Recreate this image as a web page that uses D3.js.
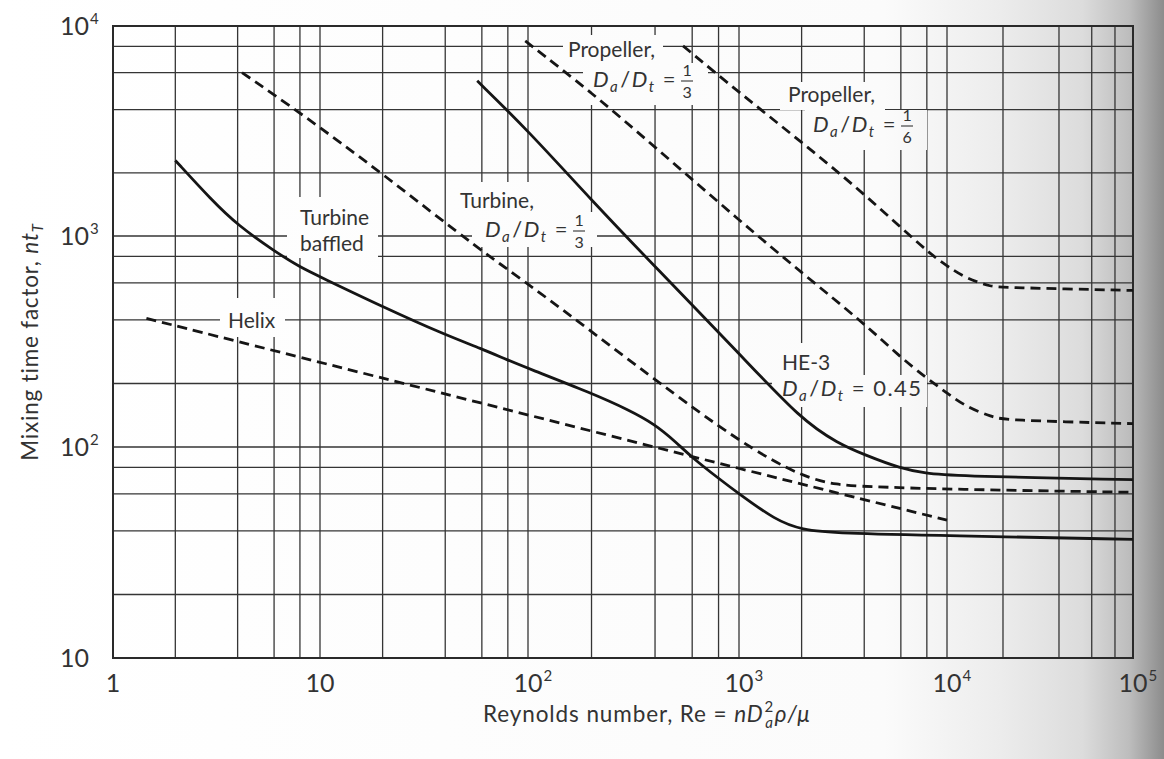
<!DOCTYPE html>
<html>
<head>
<meta charset="utf-8">
<script src="https://cdn.jsdelivr.net/npm/d3@7"></script>
<style>
  body { margin: 0; background: #fff; }
  svg { display: block; }
  text { font-family: Lato, "Open Sans", sans-serif; fill: #333; }
</style>
</head>
<body>
<svg id="chart" width="1164" height="759"></svg>
<script>
// ---------------- data ----------------
const xGridValues = [1,2,4,6,8,10,20,40,60,80,100,200,400,600,800,1000,2000,4000,6000,8000,10000,20000,40000,60000,80000,100000];
const yGridValues = [10,20,40,60,80,100,200,400,600,800,1000,2000,4000,6000,8000,10000];
const xTickValues = [1,10,100,1000,10000,100000];
const xTickBase = ["1","10","10","10","10","10"];
const xTickExp  = ["","","2","3","4","5"];
const yTickValues = [10,100,1000,10000];
const yTickBase = ["10","10","10","10"];
const yTickExp  = ["","2","3","4"];

// [Re, nt_T]
const turbineBaffled = [[2,2290],[3,1480],[4,1127],[6,850],[8,712],[10,641],[20,462],[40,340],[60,292],[80,258],[100,236],[200,180],[300,150],[400,128],[500,106],[600,89],[800,71],[1000,60],[1500,45],[2000,40.5],[3000,39],[10000,38],[100000,36.5]];
const helix = [[1.45,407],[10,252],[100,142],[1000,79],[10000,45]];
const turbineThird = [[4.2,6000],[8,3870],[20,1980],[60,843],[100,597],[400,208],[1000,106],[2000,72],[3000,66],[4000,65],[10000,63],[100000,61]];
const he3 = [[57,5480],[100,3180],[200,1480],[400,715],[1000,278],[2000,134],[3000,104],[4000,92],[6000,79],[8000,75],[10000,73],[100000,70]];
const propellerThird = [[97,8490],[200,4830],[400,2650],[1000,1190],[2000,670],[4000,385],[6000,265],[8000,212],[10000,180],[13000,153],[17600,139],[20000,134],[100000,129]];
const propellerSixth = [[543,8040],[1000,4830],[2000,2800],[4000,1590],[8000,845],[10000,720],[12000,650],[14500,605],[17000,578],[20000,570],[100000,552]];

const seriesList = [
  {data: turbineBaffled, dashed: false},
  {data: helix, dashed: true},
  {data: turbineThird, dashed: true},
  {data: he3, dashed: false},
  {data: propellerThird, dashed: true},
  {data: propellerSixth, dashed: true}
];

// ---------------- layout ----------------
const svg = d3.select("#chart");
const x = d3.scaleLog().domain([1,10,100,1000,10000,100000]).range([113,320,528,739,947,1133]);
const y = d3.scaleLog().domain([10,100,1000,10000]).range([658,447,236,26]);

// background shading (photographed page)
const defs = svg.append("defs");
const grad = defs.append("linearGradient").attr("id","bg")
  .attr("gradientUnits","userSpaceOnUse").attr("x1",0).attr("x2",1164).attr("y1",0).attr("y2",0);
[[0,"#ffffff"],[0.76,"#fbfbfb"],[0.86,"#ececec"],[0.93,"#dcdcdc"],[0.97,"#bdbdbd"],[1,"#8c8c8c"]]
  .forEach(s => grad.append("stop").attr("offset",s[0]).attr("stop-color",s[1]));
svg.append("rect").attr("width",1164).attr("height",759).attr("fill","url(#bg)");

const gridColor = "#353535";
const g = svg.append("g");

// grid
g.selectAll(".vg").data(xGridValues).join("line")
  .attr("x1", d => x(d)).attr("x2", d => x(d))
  .attr("y1", y(10)).attr("y2", y(10000))
  .attr("stroke", gridColor).attr("stroke-width", 1.3);
g.selectAll(".hg").data(yGridValues).join("line")
  .attr("y1", d => y(d)).attr("y2", d => y(d))
  .attr("x1", x(1)).attr("x2", x(100000))
  .attr("stroke", gridColor).attr("stroke-width", 1.3);
g.append("rect")
  .attr("x", x(1)).attr("y", y(10000))
  .attr("width", x(100000) - x(1)).attr("height", y(10) - y(10000))
  .attr("fill","none").attr("stroke","#2a2a2a").attr("stroke-width",2);

// label boxes (interrupt the grid like in the original)
const boxes = [
  [287,197,91,61],
  [220,298,65,39],
  [455,182,85,30],[472,212,125,35],
  [563,35,100,30],[583,63,125,42],
  [780,82,105,28],[805,110,122,40],
  [775,343,60,32],[772,375,155,32]
];
g.selectAll(".box").data(boxes).join("rect")
  .attr("x", d => d[0]).attr("y", d => d[1]).attr("width", d => d[2]).attr("height", d => d[3])
  .attr("fill","url(#bg)");

// curves
const line = d3.line().x(d => x(d[0])).y(d => y(d[1])).curve(d3.curveBasis);
g.selectAll(".curve").data(seriesList).join("path")
  .attr("d", d => line(d.data))
  .attr("fill","none").attr("stroke","#151515").attr("stroke-width",2.8)
  .attr("stroke-dasharray", d => d.dashed ? "10,6" : null);

// tick labels
const TICK_FS = 25;
xTickValues.forEach((v,i) => {
  const t = g.append("text").attr("x", x(v)).attr("y", 692)
    .attr("text-anchor","middle").attr("font-size",TICK_FS).text(xTickBase[i]);
  if (xTickExp[i]) {
    const bb = t.node().getBBox();
    g.append("text").attr("x", bb.x + bb.width + 1).attr("y", 681)
      .attr("font-size",15).text(xTickExp[i]);
  }
});
yTickValues.forEach((v,i) => {
  const t = g.append("text").attr("x", 60).attr("y", y(v) + 9)
    .attr("font-size",TICK_FS).text(yTickBase[i]);
  if (yTickExp[i]) {
    const bb = t.node().getBBox();
    g.append("text").attr("x", bb.x + bb.width + 1).attr("y", y(v) - 2)
      .attr("font-size",15).text(yTickExp[i]);
  }
});

// axis titles
const xt = g.append("text").attr("x", 483).attr("y", 722).attr("font-size", 22.5)
  .attr("letter-spacing", 0.9);
xt.append("tspan").text("Reynolds number, Re = ");
xt.append("tspan").attr("font-style","italic").text("nD");
xt.append("tspan").attr("font-size",15).attr("dy",-10).attr("dx",1).text("2");
xt.append("tspan").attr("font-size",15).attr("font-style","italic").attr("dy",16).attr("dx",-9).text("a");
xt.append("tspan").attr("font-style","italic").attr("dy",-6).attr("dx",1).text("ρ/μ");

const yt = g.append("text").attr("transform","translate(38,342) rotate(-90)")
  .attr("text-anchor","middle").attr("font-size",22.5).attr("letter-spacing", 0.8);
yt.append("tspan").text("Mixing time factor, ");
yt.append("tspan").attr("font-style","italic").text("nt");
yt.append("tspan").attr("font-style","italic").attr("font-size",15).attr("dy",5).text("T");

// curve labels
const LFS = 21;
function plain(xp, yp, s) {
  return g.append("text").attr("x", xp).attr("y", yp).attr("font-size", LFS).text(s);
}
function ratioLine(xp, yp, tail) {
  const t = g.append("text").attr("x", xp).attr("y", yp).attr("font-size", 22)
    .attr("letter-spacing", 1.5);
  t.append("tspan").attr("font-style","italic").text("D");
  t.append("tspan").attr("font-style","italic").attr("font-size",15).attr("dy",5).text("a");
  t.append("tspan").attr("dy",-5).attr("dx",1).text("/");
  t.append("tspan").attr("font-style","italic").text("D");
  t.append("tspan").attr("font-style","italic").attr("font-size",15).attr("dy",5).text("t");
  t.append("tspan").attr("dy",-5).text(" = " + (tail || ""));
  return t;
}
function fraction(t, num, den) {
  const bb = t.node().getBBox();
  const cx = bb.x + bb.width + 10;
  const by = +t.attr("y") - 6;
  g.append("text").attr("x", cx).attr("y", by - 5).attr("text-anchor","middle").attr("font-size",16).text(num);
  g.append("line").attr("x1", cx - 6).attr("x2", cx + 6).attr("y1", by).attr("y2", by)
    .attr("stroke","#444").attr("stroke-width",1.2);
  g.append("text").attr("x", cx).attr("y", by + 17).attr("text-anchor","middle").attr("font-size",16).text(den);
}

plain(300, 225, "Turbine");
plain(300, 251, "baffled");
plain(228, 328, "Helix");

plain(460, 208, "Turbine,");
fraction(ratioLine(485, 237), "1", "3");

plain(568, 57, "Propeller,");
fraction(ratioLine(593, 87), "1", "3");

plain(788, 102, "Propeller,");
fraction(ratioLine(813, 132), "1", "6");

plain(782, 370, "HE-3");
ratioLine(782, 396, "0.45");
</script>
</body>
</html>
